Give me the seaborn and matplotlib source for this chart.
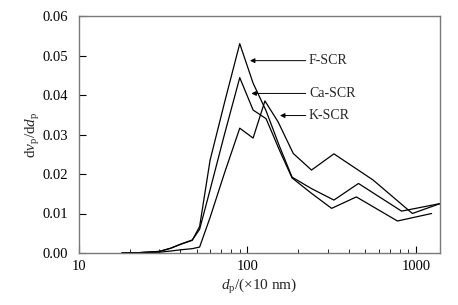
import matplotlib
matplotlib.use("Agg")
import matplotlib.pyplot as plt
import seaborn as sns
import pandas as pd
from matplotlib.ticker import LogLocator, FixedLocator, FixedFormatter, NullFormatter

# ---- data ----
f_x = [18, 23, 30, 35, 40, 47, 52, 60, 73, 90, 108, 129, 155, 184, 240, 326, 456, 822, 1390]
f_y = [0.0, 0.0001, 0.0004, 0.0012, 0.0022, 0.0032, 0.0067, 0.0235, 0.038, 0.053, 0.043,
       0.036, 0.027, 0.0192, 0.0163, 0.0134, 0.0176, 0.0106, 0.0125]

ca_x = [18, 23, 30, 35, 40, 47, 52, 60, 73, 90, 108, 129, 155, 184, 240, 316, 443, 777, 1239]
ca_y = [0.0, 0.0001, 0.0004, 0.0012, 0.0022, 0.0033, 0.006, 0.016, 0.030, 0.0444, 0.0362,
        0.034, 0.026, 0.019, 0.0151, 0.0113, 0.0142, 0.0081, 0.0100]

k_x = [18, 23, 30, 35, 40, 47, 52, 60, 73, 90, 108, 127, 152, 187, 240, 326, 556, 953, 1390]
k_y = [0.0, 0.0001, 0.0002, 0.0005, 0.0008, 0.0011, 0.0015, 0.009, 0.0202, 0.0316, 0.0291,
       0.0385, 0.0332, 0.0252, 0.021, 0.0251, 0.0185, 0.0100, 0.0125]

series_names = ["F-SCR", "Ca-SCR", "K-SCR"]
y_ticks = [0.00, 0.01, 0.02, 0.03, 0.04, 0.05, 0.06]
x_ticks = [10, 100, 1000]
x_tick_labels = ["10", "100", "1000"]

df = pd.concat([
    pd.DataFrame({"d": f_x, "v": f_y, "s": series_names[0]}),
    pd.DataFrame({"d": ca_x, "v": ca_y, "s": series_names[1]}),
    pd.DataFrame({"d": k_x, "v": k_y, "s": series_names[2]}),
], ignore_index=True)

sns.set_style("ticks")
plt.rcParams["font.family"] = ["Liberation Serif", "DejaVu Serif"]
plt.rcParams["mathtext.fontset"] = "custom"
plt.rcParams["mathtext.rm"] = "Liberation Serif"
plt.rcParams["mathtext.it"] = "Liberation Serif:italic"

fig = plt.figure(figsize=(4.58, 3.05), dpi=100)
ax = fig.add_axes([0.1725, 0.1705, 0.7882, 0.777])

sns.lineplot(data=df, x="d", y="v", hue="s", units="s", estimator=None, sort=False,
             palette=["black", "black", "black"], linewidth=0.9, legend=False, ax=ax)

ax.set_xscale("log")
ax.set_xlim(10, 1390)
ax.set_ylim(0, 0.06)
ax.xaxis.set_major_locator(FixedLocator(x_ticks))
ax.xaxis.set_major_formatter(FixedFormatter(x_tick_labels))
ax.xaxis.set_minor_locator(LogLocator(base=10, subs=range(2, 10)))
ax.xaxis.set_minor_formatter(NullFormatter())
ax.set_yticks(y_ticks)
ax.set_yticklabels([f"{v:.2f}" for v in y_ticks])

ax.tick_params(axis="y", which="major", direction="in", length=5, width=0.8,
               labelsize=10.5, colors="black", pad=8, right=False)
ax.tick_params(axis="x", which="major", direction="in", length=5, width=0.8,
               labelsize=10.5, colors="black", pad=5, top=False)
ax.tick_params(axis="x", which="minor", direction="in", length=3, width=0.7, top=False)

for sp in ax.spines.values():
    sp.set_visible(True)
    sp.set_color("#7a7a7a")
    sp.set_linewidth(1.0)

ax.set_xlabel(r"$d_{\mathrm{p}}$/(×10 nm)", fontsize=11, labelpad=3)
ax.set_ylabel(r"d$v_{\mathrm{p}}$/d$d_{\mathrm{p}}$", fontsize=11, labelpad=0)

arrow = dict(arrowstyle="-|>", lw=0.7, color="black", mutation_scale=7, shrinkA=0, shrinkB=0)
ax.annotate("F-SCR", xy=(103.5, 0.0487), xytext=(232, 0.0487), fontsize=10,
            va="center", ha="left", arrowprops=arrow)
ax.annotate("Ca-SCR", xy=(105.5, 0.0404), xytext=(232, 0.0404), fontsize=10,
            va="center", ha="left", arrowprops=arrow)
ax.annotate("K-SCR", xy=(156, 0.0348), xytext=(232, 0.0348), fontsize=10,
            va="center", ha="left", arrowprops=arrow)

fig.savefig("out.png", dpi=100)
